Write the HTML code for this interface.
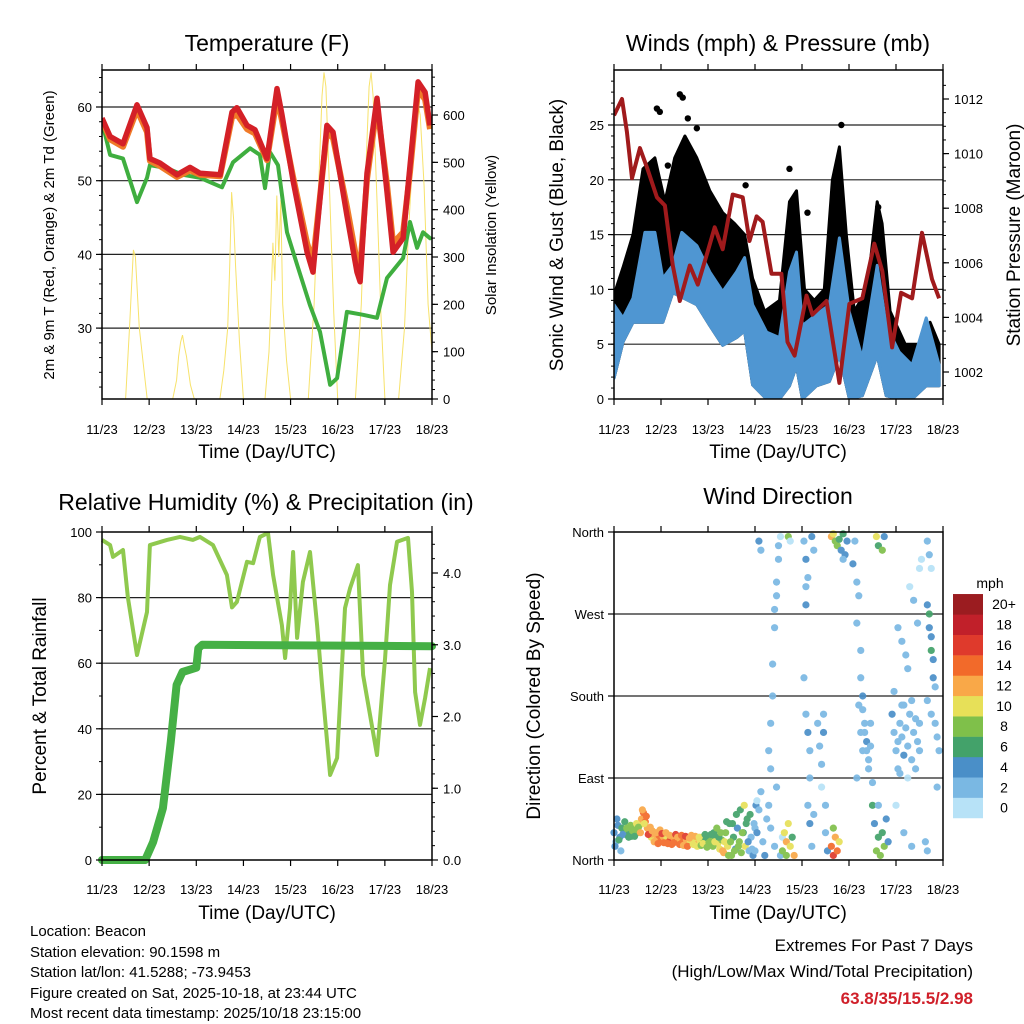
<!DOCTYPE html>
<html><head><meta charset="utf-8">
<style>
body{margin:0;background:#fff;}
svg{display:block;font-family:"Liberation Sans",Arial,sans-serif;}
</style></head>
<body>
<svg id="chart" width="1024" height="1024" viewBox="0 0 1024 1024" xmlns="http://www.w3.org/2000/svg">
<rect x="0" y="0" width="1024" height="1024" fill="#fff"/>
<text x="267" y="51" font-size="23" text-anchor="middle">Temperature (F)</text>
<text x="778" y="51" font-size="23" text-anchor="middle">Winds (mph) &amp; Pressure (mb)</text>
<text x="266" y="510" font-size="23" text-anchor="middle">Relative Humidity (%) &amp; Precipitation (in)</text>
<text x="778" y="504" font-size="23" text-anchor="middle">Wind Direction</text>
<text x="267" y="458" font-size="19" text-anchor="middle">Time (Day/UTC)</text>
<text x="778" y="458" font-size="19" text-anchor="middle">Time (Day/UTC)</text>
<text x="267" y="919" font-size="19" text-anchor="middle">Time (Day/UTC)</text>
<text x="778" y="919" font-size="19" text-anchor="middle">Time (Day/UTC)</text>
<text transform="translate(54,235) rotate(-90)" font-size="15" text-anchor="middle">2m &amp; 9m T (Red, Orange) &amp; 2m Td (Green)</text>
<text transform="translate(496,235) rotate(-90)" font-size="15" text-anchor="middle">Solar Insolation (Yellow)</text>
<text transform="translate(563,235) rotate(-90)" font-size="19" text-anchor="middle">Sonic Wind &amp; Gust (Blue, Black)</text>
<text transform="translate(1020,235) rotate(-90)" font-size="19" text-anchor="middle">Station Pressure (Maroon)</text>
<text transform="translate(46,696) rotate(-90)" font-size="19" text-anchor="middle">Percent &amp; Total Rainfall</text>
<text transform="translate(540,696) rotate(-90)" font-size="19" text-anchor="middle">Direction (Colored By Speed)</text>
<g font-size="15">
<text x="30" y="936">Location: Beacon</text>
<text x="30" y="957">Station elevation: 90.1598 m</text>
<text x="30" y="977">Station lat/lon: 41.5288; -73.9453</text>
<text x="30" y="998">Figure created on Sat, 2025-10-18, at 23:44 UTC</text>
<text x="30" y="1018">Most recent data timestamp: 2025/10/18 23:15:00</text>
</g>
<text x="973" y="951" font-size="17" text-anchor="end">Extremes For Past 7 Days</text>
<text x="973" y="977" font-size="17" text-anchor="end">(High/Low/Max Wind/Total Precipitation)</text>
<text x="973" y="1004" font-size="17" font-weight="bold" fill="#d0202a" text-anchor="end">63.8/35/15.5/2.98</text>
</svg>
<script>
// ---------- data ----------
const dayLabels=["11/23","12/23","13/23","14/23","15/23","16/23","17/23","18/23"];
const redHours=[0,4.1,10.7,17.8,22.9,24.4,29.5,38.2,44.8,49.9,60.1,66.2,68.7,73.8,77.9,84,89.1,91.6,97.3,104.4,107.4,114.5,117.6,124.7,129.8,131.4,134.9,140,145.1,148.2,153.3,156.8,160.9,164.5,167];
const redTemp=[58.5,56,55,60.3,57.2,53,52.4,50.8,51.8,51,50.8,59.3,59.9,57.5,56.9,53,62.5,59,50,40.3,37.6,57.5,56.6,45.3,37.6,36.3,51,61.2,48.5,40.3,42.2,52,63.4,62,57.5];
const orangeTemp=[58.3,55.6,54.6,59.6,56.6,52.7,52.0,50.5,51.4,50.8,50.6,58.6,59.0,57.0,56.4,52.8,61.3,58.2,50.5,41.5,39,56.6,55.8,46.5,39,38,50.2,60.2,49.5,41.5,43,51.2,62.4,61,57];
const dewHours=[0,4.1,10.7,17.8,22.9,24.4,33.1,41.2,49.9,61.1,66.7,75.4,80.4,83,85.5,89.6,94.2,99.3,105.9,111,116.1,119.7,124.7,132.9,140,145.1,153.3,156.8,160.4,163.4,167];
const dewTemp=[58,53.5,53,47.1,50.4,52.1,51.7,50.8,50.4,49.1,52.5,54.4,53.5,49,53.9,52.1,43,38.6,33.1,29.5,22.3,23.2,32.2,31.8,31.4,36.8,39.5,44.4,40.9,43,42.2];
const solarHours=[0,12,14,16,17,19,23,36,38,39,40,41,42,43,45,47,60,62,64,65,66,67,68,70,72,83,85,86,87,88,89,90,91,92,94,96,105,108,110,112,113,114,116,118,120,129,132,134,136,137,138,140,142,144,151,154,156,158,160,161,162,164,166,168];
const solarValues=[0,0,150,315,300,150,0,0,40,90,120,135,110,90,30,0,0,60,150,280,437,380,280,120,0,0,100,200,330,250,430,300,420,200,80,0,0,200,420,640,690,660,420,180,0,0,200,450,660,690,640,420,180,0,0,150,350,500,600,620,600,450,200,100];

const windHours=[0,4.6,9.7,15.8,20.9,24.9,30,34.6,42.3,48.9,55.5,62.6,66.7,70.8,77.9,84.5,89.6,93.2,96.2,103.4,110,115.1,120.2,126.8,134.4,139,145.6,152.2,159.4,166];
const windHigh=[8.6,7.4,9.2,15.2,15.2,11,12.2,15.2,14,11.6,9.8,11.6,12.9,8.6,6.1,5.6,11.6,13.4,6.7,7.7,8.6,14.7,7.9,3.7,12.2,6.7,4.3,3.1,7.4,3.1];
const windLow=[1.9,5.2,7,7,7,7,9.7,9.3,8.6,6.7,4.9,5.6,6.2,1.3,0,0,1.2,3,0,1.2,1.6,4,0,0.3,4,0.3,0,0,1.2,1.2];
const gustHours=[0,4.6,9.7,14.8,20.9,26,31,36.2,42.3,48.9,55.5,61.6,66.7,70.8,76.9,84.5,89.6,93.2,97.3,102.3,107.4,111.5,115.1,118.6,122.7,129.3,134.4,136.9,141,148.7,156.3,161.4,166];
const gustHigh=[9.5,12,15,21,22,18,22,24,22,19,17,16,15,11,8,9,18,19,10,9,10,20,23,15,8,10,18,16,8,5,5,7,5];
const gustOutHours=[21.9,23.4,33.6,35.1,37.7,42.3,27.5,67.2,89.6,98.8,116.1,134.9,31.5];
const gustOutValues=[26.5,26.2,27.8,27.5,25.6,24.7,21.3,19.5,21,17,25,17.5,12.8];
const presHours=[0,4.1,6.6,9.2,13.2,16.8,21.9,26,30,33.6,38.7,42.8,47.4,51.4,55.5,60.6,65.7,69.2,72.8,75.9,80.4,85.5,88.6,92.2,98.3,101.3,108.5,115.1,120.2,126.8,132.9,137,142,146.6,152.2,157.3,162.4,166];
const presValues=[1011.4,1012,1010.8,1009.1,1010.2,1009.5,1008.4,1008.1,1005.9,1004.6,1005.9,1005.2,1006.3,1007.3,1006.5,1008.5,1008.4,1006.8,1007.7,1007.5,1005.6,1005.6,1003.1,1002.6,1004.8,1004.1,1004.6,1001.6,1004.5,1004.7,1006.7,1005.7,1002.9,1004.9,1004.7,1007.1,1005.4,1004.7];

const rhHours=[0,4.1,5.6,10.7,13.2,17.8,22.9,24.4,33.1,39.7,46.3,49.9,56.5,63.6,66.2,68.7,73.8,76.9,80.4,84.5,87.1,91.6,93.2,95.7,97.3,99.3,102.3,105.9,109.5,112,116.1,119.7,123.7,126.3,130.3,132.9,140,144.1,146.6,150.2,155.8,157.8,159.4,161.9,164.5,167];
const rhValues=[97.6,96,92.4,94.5,80,62.5,75.6,96,97.6,98.5,97.6,98.5,96,86.9,77,78.7,90.9,90.5,98.5,99.7,86.9,71.6,61.6,76.8,93.9,67.7,84.8,93.9,71.6,53.4,25.9,31.1,76.8,82.9,89.9,56.4,32,61.6,83.8,97,98.2,81.7,51.2,41.2,49.4,58.5];
const rainHours=[0,22,26,31,35,38,41,48,49,51,168];
const rainValues=[0,0,0.25,0.72,1.65,2.44,2.62,2.68,2.95,3.0,2.98];

const dirA1=[30,20,38,25,35,30,28,33,30,26,32,35,30,38,45,52,42,35,30,25,28,22,25,27,24,26,22,25,20,23,25,22,20,24,21,23,20,22,18,21,24,19,22,18,21,25,20,23,26,20,22,30,25,18,12,22,8,30,15,40,5,25,12,35,20,8,30,15,45,10,25,5,35];
const spdA1=[4,3,5,4,6,7,6,8,7,6,8,9,8,10,12,14,15,12,13,10,12,11,13,14,15,12,13,11,14,16,15,13,15,16,12,14,15,12,13,11,12,10,11,12,10,9,8,7,6,8,9,7,6,10,11,9,12,8,10,6,9,7,5,4,8,9,7,10,6,3,2,4,3];
const dirA2=[15,45,22,10,28,42,35,25,38,32,26,40,36,30,55,40,48,28,36,32,20,30,18,33,29,19,30,18,27,17,19,28,25,17,27,16,26,15,24,27,17,26,15,25,16,18,28,14,19,28,15,20,35,25,30,10,20,42,5,20,40,10,50,15,55,30,60,40,20,50,12,40,60];
const spdA2=[5,4,6,3,5,6,8,7,9,8,7,10,9,12,13,11,14,16,12,12,13,12,14,12,16,15,12,14,13,15,14,16,12,14,15,13,16,14,12,13,11,12,10,11,9,10,7,8,9,7,8,10,8,7,9,12,11,6,9,8,7,8,6,9,7,8,10,7,4,6,3,2,4];
const dirBHours=[72,73,74,75,76,74,75,77,78,73,79,80,80,81,81,82,82,83,83,84,84,85,79,80,82,85,86,83,86,87,88,88,89,90,91,92,89,90,97,98,98,99,98,97,98,99,100,100,99,100,101,102,101,102,104,105,106,106,107,108,108,109,107,111,112,113,114,115,112,111,112,113,114,115,116,117,118,119,117,122,124,123,125,124,126,126,127,127,128,128,129,129,130,130,131,131,132,132,133,125,126,127,124,134,135,137,138,134,135,136,137,138,139,140,135,142,143,144,145,146,147,148,149,150,151,152,153,154,155,156,143,146,150,152,148,154,156,147,145,145,147,149,151,153,155,156,157,150,144,148,152,160,161,161,162,162,163,163,164,160,162,164,165,166,160,161,162,159,160,165];
const dirBDir=[10,30,55,75,20,350,340,5,45,65,120,150,100,180,215,255,275,290,305,330,345,355,60,35,15,5,25,80,10,30,20,5,40,15,25,5,355,350,350,330,300,310,280,200,160,140,120,90,60,40,15,50,355,340,150,125,105,80,160,60,30,10,140,15,5,25,10,20,35,355,358,350,345,352,340,358,335,350,330,325,305,350,290,260,230,200,180,165,150,140,130,120,110,100,150,125,85,60,40,170,140,120,90,355,345,340,355,10,25,5,30,15,45,20,60,160,140,120,100,150,135,170,145,125,160,110,140,155,130,120,185,95,90,175,115,100,150,170,130,255,240,225,300,285,260,320,330,210,60,30,15,280,270,255,245,230,220,200,190,175,160,150,135,120,350,335,320,20,10,80];
const dirBSpd=[2,4,3,2,3,4,2,4,2,1,2,2,3,3,2,2,3,2,3,2,3,1,2,3,3,2,1,2,9,10,12,8,11,10,7,12,9,1,3,4,2,3,4,2,3,4,2,2,3,4,2,3,4,3,2,3,2,1,3,2,3,4,4,14,16,12,14,10,8,12,10,9,8,6,5,6,4,4,3,4,2,2,3,2,3,2,4,3,3,2,4,3,3,2,3,2,3,6,4,3,2,3,2,10,6,8,4,8,7,9,6,8,4,4,3,4,3,3,2,3,2,3,3,2,3,3,2,3,2,3,2,2,1,3,4,2,3,3,2,3,2,2,1,2,2,1,1,3,1,2,2,4,6,5,4,6,4,4,3,3,2,2,3,2,2,2,1,3,2,2];
const speedBinLabels=["0","2","4","6","8","10","12","14","16","18","20+"];
const speedBinColors=["#b7e2f7","#7ab8e3","#4a8fc8","#43a26a","#7fc04a","#e7e058","#f9a848","#f26a2a","#df3a2c","#c1202a","#9b1c20"];

// ---------- helpers ----------
const svg=document.getElementById('chart');
const NS='http://www.w3.org/2000/svg';
function mk(tag,attrs,parent){const e=document.createElementNS(NS,tag);for(const k in attrs)e.setAttribute(k,attrs[k]);(parent||svg).appendChild(e);return e;}
function pathFrom(xs,ys){let d='';for(let i=0;i<xs.length;i++)d+=(i?'L':'M')+xs[i].toFixed(1)+','+ys[i].toFixed(1);return d;}

function panel(name,x0,x1,y0,y1){
  const g=mk('g',{});
  
  
  return {g,x0,x1,y0,y1,xh:h=>x0+h*(x1-x0)/168};
}
function grid(P,ys){
  ys.forEach(y=>{const l=mk('line',{x1:P.x0,x2:P.x1,y1:y,y2:y,stroke:'#222','stroke-width':1.2},P.g);
    
    });
}
function frame(P,labelY){
  const r=mk('rect',{x:P.x0,y:P.y0,width:P.x1-P.x0,height:P.y1-P.y0,fill:'none',stroke:'#000','stroke-width':1.5},P.g);
  
  
  for(let d=0;d<=7;d++){
    const x=P.xh(d*24);
    mk('line',{x1:x,x2:x,y1:P.y0,y2:P.y0-6,stroke:'#000','stroke-width':1.2},P.g);
    mk('line',{x1:x,x2:x,y1:P.y1,y2:P.y1+6,stroke:'#000','stroke-width':1.2},P.g);
    const t=mk('text',{x:x,y:labelY,'font-size':13,'text-anchor':'middle'},P.g);
    
    
    t.textContent=dayLabels[d];
  }
}
function leftTicks(P,vals,labels,yf,minor){
  minor.forEach(v=>mk('line',{x1:P.x0,x2:P.x0-3,y1:yf(v),y2:yf(v),stroke:'#000'},P.g));
  vals.forEach((v,i)=>{const y=yf(v);
    mk('line',{x1:P.x0,x2:P.x0-6,y1:y,y2:y,stroke:'#000','stroke-width':1.2},P.g);
    const t=mk('text',{x:P.x0-10,y:y+5,'font-size':13,'text-anchor':'end'},P.g);
    
    
    t.textContent=labels[i];});
}
function rightTicks(P,vals,labels,yf,minor){
  minor.forEach(v=>mk('line',{x1:P.x1,x2:P.x1+3,y1:yf(v),y2:yf(v),stroke:'#000'},P.g));
  vals.forEach((v,i)=>{const y=yf(v);
    mk('line',{x1:P.x1,x2:P.x1+6,y1:y,y2:y,stroke:'#000','stroke-width':1.2},P.g);
    const t=mk('text',{x:P.x1+11,y:y+5,'font-size':13,'text-anchor':'start'},P.g);
    
    
    t.textContent=labels[i];});
}
function range(a,b,s){const r=[];for(let v=a;v<=b+1e-9;v+=s)r.push(+v.toFixed(3));return r;}

// ---------- Panel 1: temperature ----------
{
const P=panel('temperature',102,432,70,399);
const yT=T=>107+(60-T)*7.37, yS=S=>399-S*0.4733;
grid(P,[30,40,50,60].map(yT));
const clip=mk('clipPath',{id:'c1'});mk('rect',{x:P.x0,y:P.y0,width:P.x1-P.x0,height:P.y1-P.y0},clip);
const cg=mk('g',{'clip-path':'url(#c1)'},P.g);
const sol=mk('path',{d:pathFrom(solarHours.map(P.xh),solarValues.map(yS)),fill:'none',stroke:'#f7e26b','stroke-width':1},cg);


const dew=mk('path',{d:pathFrom(dewHours.map(P.xh),dewTemp.map(yT)),fill:'none',stroke:'#3fae3f','stroke-width':4,'stroke-linejoin':'round','stroke-linecap':'round'},cg);


const or=mk('path',{d:pathFrom(redHours.map(P.xh),orangeTemp.map(yT)),fill:'none',stroke:'#f07a28','stroke-width':6,'stroke-linejoin':'round'},cg);


const rd=mk('path',{d:pathFrom(redHours.map(P.xh),redTemp.map(yT)),fill:'none',stroke:'#d42027','stroke-width':5.5,'stroke-linejoin':'round'},cg);


leftTicks(P,[30,40,50,60],['30','40','50','60'],yT,range(22,64,2));
rightTicks(P,range(0,600,100),range(0,600,100).map(String),yS,range(0,680,20));
frame(P,434);
}
// ---------- Panel 2: winds ----------
{
const P=panel('winds',614,943,70,399);
const yV=v=>399-v*10.96, yP=p=>99+(1012-p)*27.3;
grid(P,[5,10,15,20,25].map(yV));
const clip=mk('clipPath',{id:'c2'});mk('rect',{x:P.x0,y:P.y0-4,width:P.x1-P.x0,height:P.y1-P.y0+4},clip);
const cg=mk('g',{'clip-path':'url(#c2)'},P.g);
const bx=windHours.map(P.xh);
let lowRev='';for(let i=windHours.length-1;i>=0;i--)lowRev+='L'+bx[i].toFixed(1)+','+yV(windLow[i]).toFixed(1);
const gust=mk('path',{d:pathFrom(gustHours.map(P.xh),gustHigh.map(yV))+lowRev+'Z',fill:'#000',stroke:'#000','stroke-width':3,'stroke-linejoin':'round'},cg);


gustOutHours.forEach((h,i)=>{const c=mk('circle',{cx:P.xh(h),cy:yV(gustOutValues[i]),r:3.2,fill:'#000'},cg);
  
  });
const top=pathFrom(bx,windHigh.map(yV));
const wb=mk('path',{d:top+lowRev+'Z',fill:'#4f96d2',stroke:'#4f96d2','stroke-width':3,'stroke-linejoin':'round'},cg);


const pr=mk('path',{d:pathFrom(presHours.map(P.xh),presValues.map(yP)),fill:'none',stroke:'#a01a1c','stroke-width':4,'stroke-linejoin':'round'},cg);


leftTicks(P,[0,5,10,15,20,25],['0','5','10','15','20','25'],yV,range(0,29,1));
rightTicks(P,range(1002,1012,2),range(1002,1012,2).map(String),yP,range(1001.5,1012.5,0.5));
frame(P,434);
}
// ---------- Panel 3: humidity ----------
{
const P=panel('humidity',102,432,532,860);
const yR=v=>860-v*3.28, yPr=p=>860-p*71.75;
grid(P,[20,40,60,80].map(yR));
const clip=mk('clipPath',{id:'c3'});mk('rect',{x:P.x0-5,y:P.y0,width:P.x1-P.x0+10,height:P.y1-P.y0+5},clip);
const cg=mk('g',{'clip-path':'url(#c3)'},P.g);
const rh=mk('path',{d:pathFrom(rhHours.map(P.xh),rhValues.map(yR)),fill:'none',stroke:'#8fc94e','stroke-width':4,'stroke-linejoin':'round'},cg);


const rn=mk('path',{d:pathFrom(rainHours.map(P.xh),rainValues.map(yPr)),fill:'none',stroke:'#45b045','stroke-width':8,'stroke-linejoin':'round','stroke-linecap':'round'},cg);


leftTicks(P,[0,20,40,60,80,100],['0','20','40','60','80','100'],yR,range(0,100,10));
rightTicks(P,[0,1,2,3,4],['0.0','1.0','2.0','3.0','4.0'],yPr,range(0,4.4,0.2));
frame(P,894);
}
// ---------- Panel 4: wind direction ----------
{
const P=panel('wind-direction',614,943,532,860);
const yD=d=>860-d*328/360;
grid(P,[90,180,270].map(yD));
const colorOf=s=>speedBinColors[Math.max(0,Math.min(10,Math.floor(s/2)))];
const cg=mk('g',{opacity:0.92},P.g);
function dot(h,d,s){const c=mk('circle',{cx:P.xh(h),cy:yD(d),r:3.6,fill:colorOf(s)},cg);
  
  }
dirA1.forEach((d,i)=>dot(i,d,spdA1[i]));
dirA2.forEach((d,i)=>dot(i+0.5,d,spdA2[i]));
dirBHours.forEach((h,i)=>dot(h,dirBDir[i],dirBSpd[i]));
leftTicks(P,[0,90,180,270,360],['North','East','South','West','North'],yD,[]);
frame(P,894);
const cb=mk('g',{});


const t0=mk('text',{x:990,y:588,'font-size':14,'text-anchor':'middle'},cb);


t0.textContent='mph';
speedBinColors.forEach((c,i)=>{
  const yb=818-(i+1)*20.36;
  const r=mk('rect',{x:953,y:yb,width:30,height:20.6,fill:c},cb);
  
  
  const t=mk('text',{x:1004,y:yb+15,'font-size':14,'text-anchor':'middle'},cb);
  
  
  t.textContent=speedBinLabels[i];
});
}
</script>
</body></html>
